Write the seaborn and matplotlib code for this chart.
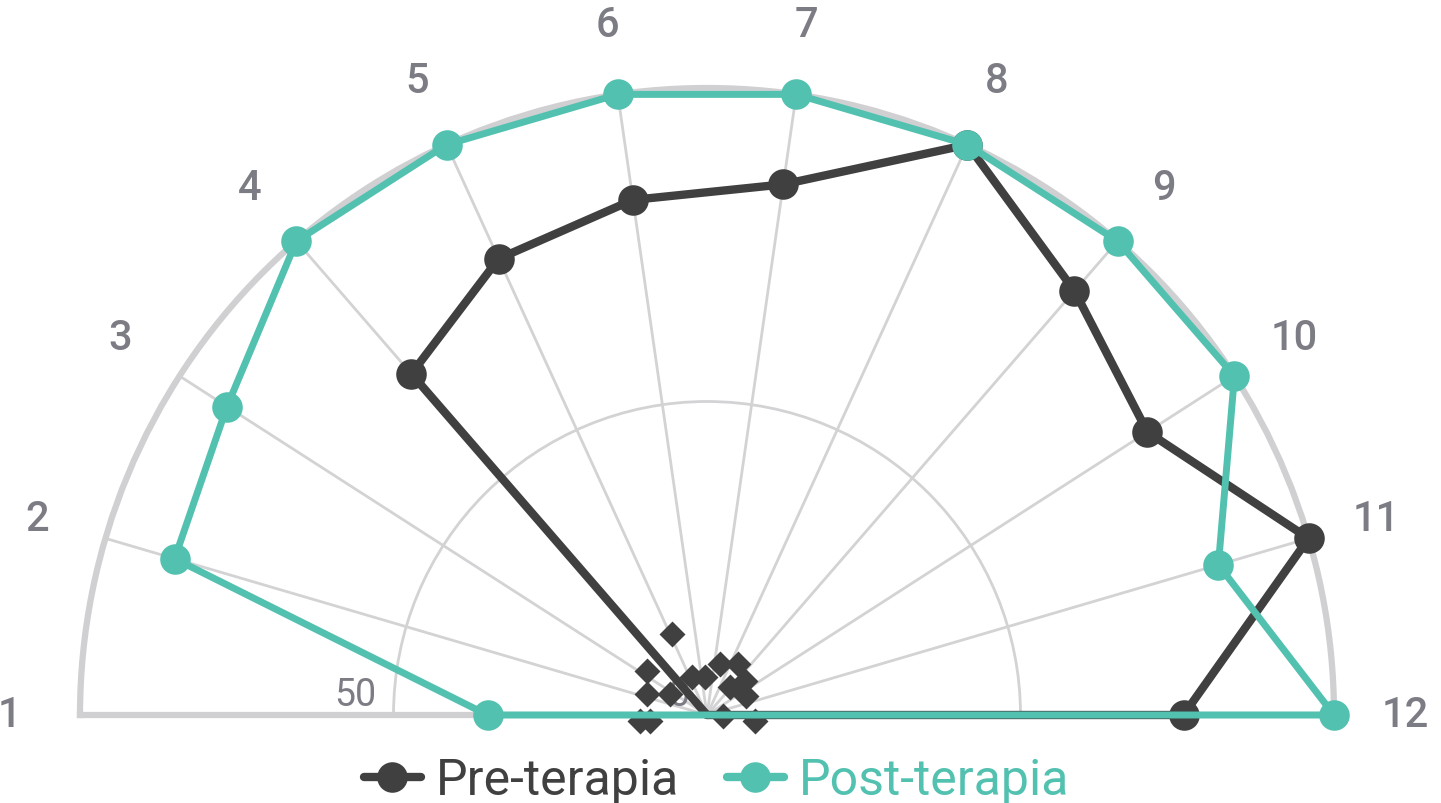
import numpy as np
import matplotlib
matplotlib.use("Agg")
import matplotlib.pyplot as plt
from matplotlib.lines import Line2D
import seaborn as sns

# categories around the half circle, 1 on the left, 12 on the right
categories = ["1", "2", "3", "4", "5", "6", "7", "8", "9", "10", "11", "12"]
pre_values = [0, 0, 0, 72, 80, 83, 85.5, 100, 89.5, 83.5, 100, 76]
post_values = [35, 88.5, 91, 100, 100, 100, 100, 100, 100, 100, 85, 100]

# loose diamonds near the centre (angle in degrees, radius)
diamond_angles = [113.5, 143.7, 160.8, 150.4, 112.1, 93, 75.7, 58.5, 42.1, 25.9, 50.6,
                  184.9, 185.7, -2.5, -6.8]
diamond_radii = [14.1, 11.9, 10.2, 6.8, 6.5, 6.0, 8.4, 9.5, 8.2, 7.0, 5.8,
                 10.7, 9.1, 2.6, 7.7]

radial_ticks = [0, 50]

dark = "#404040"
teal = "#52c1b0"
grid_gray = "#d3d3d5"
label_gray = "#7c7c84"

sns.set_theme(style="white")
plt.rcParams["font.family"] = ["Roboto", "DejaVu Sans"]

n = len(categories)
theta = np.deg2rad(np.linspace(180, 0, n))

W, H = 1441, 804
cx, cy, R = 707, 716, 627  # centre and radius in pixels (from top)

fig = plt.figure(figsize=(W / 100, H / 100), dpi=100)
# matplotlib pads the half-circle wedge to a square, centre sits at 1/4 height
ax = fig.add_axes([(cx - R) / W, (H - cy - R / 2) / H, 2 * R / W, 2 * R / H],
                  projection="polar")
ax.set_thetamin(0)
ax.set_thetamax(180)
ax.set_ylim(0, 100)

# spokes and the 50 ring
ax.set_xticks(theta)
ax.set_xticklabels([])
ax.set_yticks([50])
ax.set_yticklabels([])
ax.grid(True, color=grid_gray, lw=2.0)
for name in ["polar", "start", "end"]:
    ax.spines[name].set_color("#d0d0d2")
    ax.spines[name].set_linewidth(4.5)
ax.spines["inner"].set_visible(False)
ax.tick_params(length=0)

# category labels outside the arc
for t, lab in zip(theta, categories):
    ax.text(t, 111.3, lab, ha="center", va="center", fontsize=30,
            fontweight="medium", color=label_gray)

for v in radial_ticks:
    ax.annotate(str(v), (np.pi, v), xytext=(-17, 2), textcoords="offset pixels",
                ha="right", va="bottom", fontsize=27, color=label_gray, zorder=2)

# closed loops
th_closed = np.append(theta, theta[0])
pre_closed = pre_values + [pre_values[0]]
post_closed = post_values + [post_values[0]]

shown = [i for i, v in enumerate(pre_values) if v > 0]
sns.lineplot(x=th_closed, y=pre_closed, ax=ax, sort=False, estimator=None,
             color=dark, lw=6, marker="o", markersize=22, markeredgewidth=0,
             markevery=shown, zorder=4, clip_on=False)

sns.scatterplot(x=np.deg2rad(diamond_angles), y=diamond_radii, ax=ax, marker="D",
                s=175, color=dark, linewidth=0, zorder=3, clip_on=False)

sns.lineplot(x=th_closed, y=post_closed, ax=ax, sort=False, estimator=None,
             color=teal, lw=5, marker="o", markersize=22, markeredgewidth=0,
             markevery=list(range(n)), zorder=5, clip_on=False)

handles = [
    Line2D([0], [0], color=dark, lw=6, marker="o", markersize=22, markeredgewidth=0),
    Line2D([0], [0], color=teal, lw=6, marker="o", markersize=22, markeredgewidth=0),
]
leg = fig.legend(handles, ["Pre-terapia", "Post-terapia"], loc="center",
                 bbox_to_anchor=(716.5 / W, 1 - 781 / H), ncol=2, frameon=False,
                 fontsize=36, handlelength=1.14, handletextpad=0.3, columnspacing=0.95,
                 borderpad=0, borderaxespad=0)
for txt, c in zip(leg.get_texts(), [dark, teal]):
    txt.set_color(c)

fig.savefig("out.png", dpi=100)
